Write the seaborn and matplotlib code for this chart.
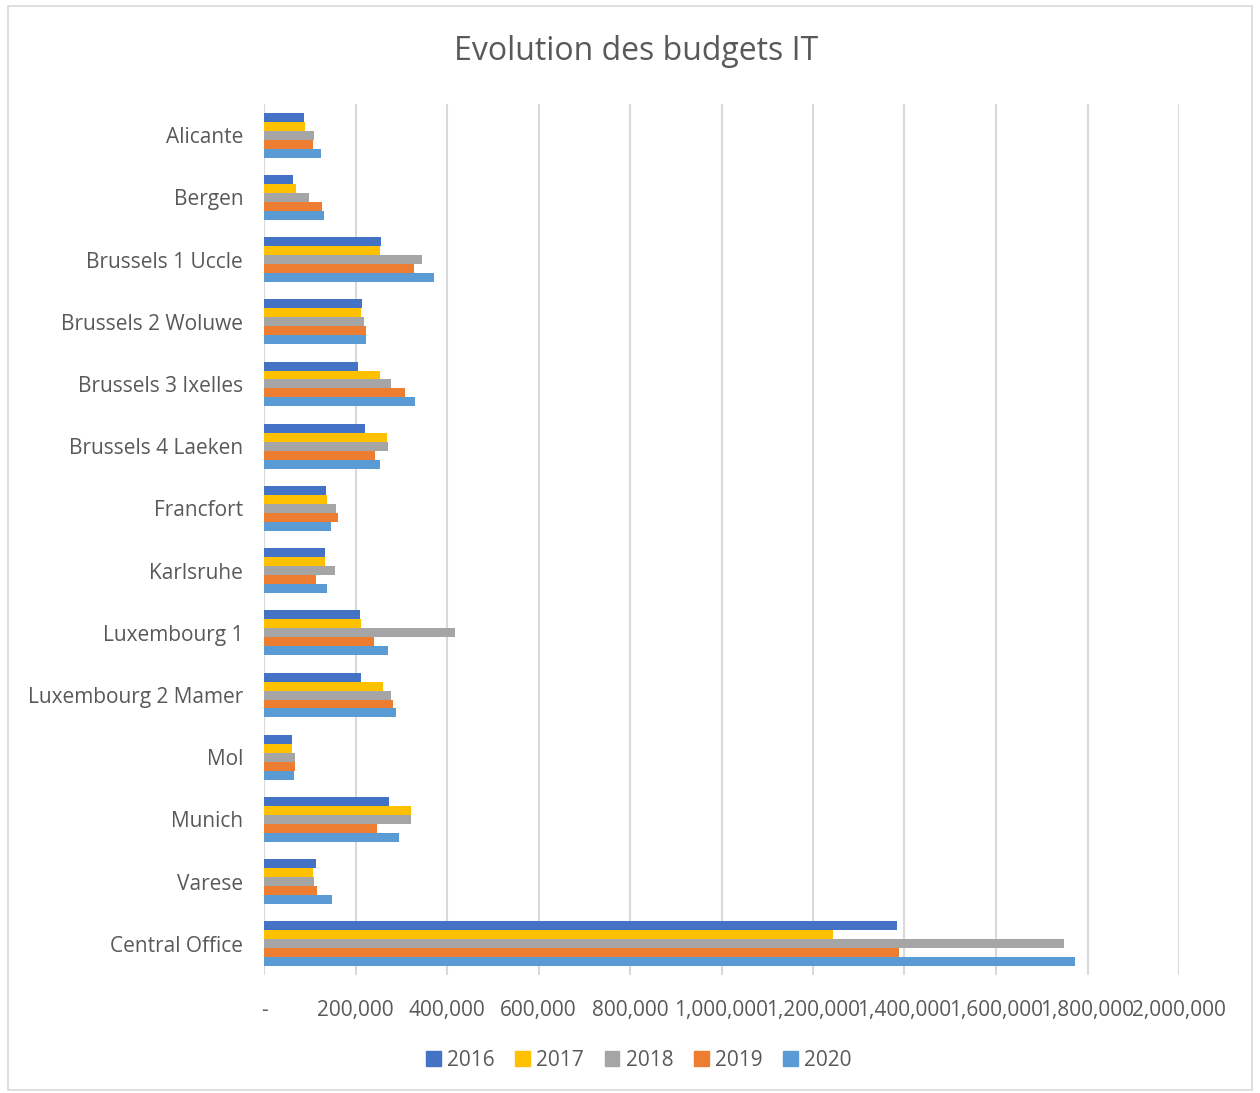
import matplotlib
matplotlib.use("Agg")
import matplotlib.pyplot as plt
import matplotlib.ticker as mticker
import seaborn as sns
import pandas as pd
import numpy as np

# data
sites = ["Alicante", "Bergen", "Brussels 1 Uccle", "Brussels 2 Woluwe",
         "Brussels 3 Ixelles", "Brussels 4 Laeken", "Francfort", "Karlsruhe",
         "Luxembourg 1", "Luxembourg 2 Mamer", "Mol", "Munich", "Varese",
         "Central Office"]
years = ["2016", "2017", "2018", "2019", "2020"]

b2016 = [88000, 63000, 256000, 215000, 206000, 220000, 136000, 133000,
         210000, 213000, 61500, 273000, 113000, 1383000]
b2017 = [90000, 70000, 253000, 212000, 253000, 268000, 138000, 133000,
         213000, 261000, 61500, 321000, 107000, 1244000]
b2018 = [109000, 98000, 346000, 218000, 278000, 272000, 158000, 156000,
         417000, 277000, 67000, 322000, 110000, 1748000]
b2019 = [108000, 127000, 327000, 222000, 308000, 242000, 161000, 114000,
         240000, 281000, 67000, 247000, 116000, 1389000]
b2020 = [124000, 132000, 371000, 223000, 331000, 254000, 147000, 138000,
         272000, 289000, 64500, 295000, 148000, 1773000]

colors = ["#4472C4", "#FFC000", "#A5A5A5", "#ED7D31", "#5B9BD5"]
text_col = "#595959"

df = pd.DataFrame({"site": sites, "2016": b2016, "2017": b2017,
                   "2018": b2018, "2019": b2019, "2020": b2020})
long = df.melt(id_vars="site", var_name="year", value_name="budget")

sns.set_theme(style="white")
plt.rcParams["font.family"] = ["Open Sans", "DejaVu Sans"]

W, H = 1260, 1093
fig = plt.figure(figsize=(W / 100, H / 100), dpi=100)
ax = fig.add_axes([264 / W, 1 - 975 / H, (1179 - 264) / W, (975 - 104) / H])

sns.barplot(data=long, y="site", x="budget", hue="year", order=sites,
            hue_order=years, palette=colors, orient="h", width=0.72,
            linewidth=0, saturation=1, ax=ax)

ax.set_xlim(0, 2000000)
ax.set_ylim(13.5, -0.5)
ax.xaxis.set_major_locator(mticker.MultipleLocator(200000))
ax.xaxis.set_major_formatter(
    mticker.FuncFormatter(lambda v, p: "-" if v == 0 else f"{v:,.0f}"))
ax.grid(axis="x", color="#d9d9d9", linewidth=1.5)
ax.set_axisbelow(True)
for s in ax.spines.values():
    s.set_visible(False)
ax.set_xlabel("")
ax.set_ylabel("")
ax.tick_params(axis="x", length=0, pad=18, labelsize=15, labelcolor=text_col)
ax.tick_params(axis="y", length=0, pad=15, labelsize=15, labelcolor=text_col)

ax.legend_.remove()
handles = [plt.Rectangle((0, 0), 1, 1, color=c) for c in colors]
fig.legend(handles, years, loc="center", bbox_to_anchor=(639 / W, 1 - 1060 / H),
           ncol=5, frameon=False, fontsize=15, handlelength=0.7,
           handleheight=0.7, handletextpad=0.3, columnspacing=1.0,
           labelcolor=text_col)

fig.text(636 / W, 1 - 52 / H, "Evolution des budgets IT", ha="center",
         va="center", fontsize=23, color=text_col)

fig.patches.append(plt.Rectangle((8 / W, 3 / H), 1244 / W, 1084 / H,
                                 transform=fig.transFigure, fill=False,
                                 edgecolor="#d9d9d9", linewidth=1.2))

fig.savefig("out.png", dpi=100)
